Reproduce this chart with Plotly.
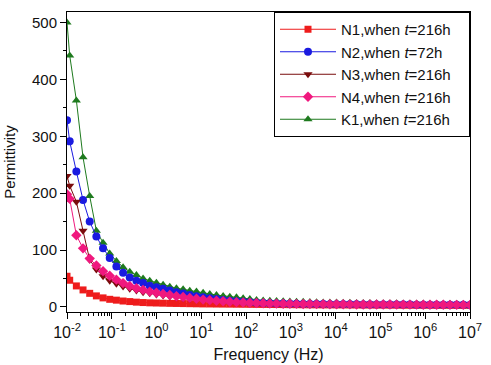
import plotly.graph_objects as go

# Frequency sweep grid (log10 of Hz)
freq_exponents = [-2.0] + [round(-1.94 + 0.149 * i, 3) for i in range(61)]
frequency = [10 ** e for e in freq_exponents]

PAD = "\u00a0\u00a0\u00a0"
series_names = [
    "N1,when <i>t</i>=216h" + PAD,
    "N2,when <i>t</i>=72h" + PAD,
    "N3,when <i>t</i>=216h" + PAD,
    "N4,when <i>t</i>=216h" + PAD,
    "K1,when <i>t</i>=216h" + PAD,
]

n1_values = [54, 47, 37, 30, 24, 19.5, 16, 13.5, 12, 10.5, 9.5, 8.5, 7.8, 7.3, 7, 6.7,
             6.4, 6.2, 6, 5.8, 5.6, 5.4, 5.3, 5.2, 5.1, 5, 4.9, 4.8, 4.7, 4.6, 4.5, 4.4,
             4.3, 4.2, 4.1, 4, 3.9, 3.8, 3.8, 3.7, 3.7, 3.6, 3.6, 3.5, 3.5, 3.4, 3.4, 3.3,
             3.3, 3.2, 3.2, 3.1, 3.1, 3, 3, 3, 2.9, 2.9, 2.9, 2.8, 2.8, 2.8]

n2_values = [328, 291, 238, 188, 150, 124, 103, 86, 71, 60, 52, 46, 42, 37.5, 34.5, 32,
             29, 26, 23.5, 21, 19, 17, 15.5, 14, 12.5, 11, 10, 9, 8.2, 7.6,
             7, 6.6, 6.3, 6, 5.8, 5.6, 5.4, 5.3, 5.2, 5.1, 5, 4.9, 4.8, 4.7, 4.6, 4.5,
             4.5, 4.4, 4.4, 4.3, 4.3, 4.2, 4.2, 4.1, 4.1, 4, 4, 3.9, 3.9, 3.8, 3.8, 3.7]

n3_values = [230, 213, 185, 134, 83, 66, 54, 46, 41, 36, 32, 29, 26, 24, 22, 20,
             18.5, 17, 15.5, 14, 13, 12, 11, 10, 9.2, 8.5, 8, 7.5, 7, 6.5,
             6.1, 5.8, 5.6, 5.4, 5.2, 5.1, 5, 4.9, 4.8, 4.7, 4.6, 4.5, 4.4, 4.3, 4.2, 4.2,
             4.1, 4.1, 4, 4, 3.9, 3.9, 3.8, 3.8, 3.7, 3.7, 3.6, 3.6, 3.5, 3.5, 3.4, 3.4]

n4_values = [198, 190, 126, 103, 85, 73, 63, 55, 48, 42, 37, 33, 30, 27, 25, 23,
             21, 19, 17.5, 16, 14.5, 13, 12, 11, 10, 9.2, 8.5, 8, 7.5, 7,
             6.5, 6.2, 6, 5.8, 5.6, 5.4, 5.3, 5.2, 5.1, 5, 4.9, 4.8, 4.7, 4.6, 4.5, 4.5,
             4.4, 4.4, 4.3, 4.3, 4.2, 4.2, 4.1, 4.1, 4, 4, 3.9, 3.9, 3.8, 3.8, 3.7, 3.7]

k1_values = [500, 442, 363, 263, 195, 134, 113, 94, 81, 70, 62, 56, 50, 46, 42.5, 39,
             35.7, 33, 31, 28.7, 27, 25, 23, 21, 19.5, 18, 17, 15.5, 14, 12.5,
             11.5, 11, 10.5, 10, 9.6, 9.3, 9, 8.7, 8.4, 8.1, 7.9, 7.7, 7.5, 7.3, 7.1, 6.9,
             6.8, 6.7, 6.6, 6.5, 6.4, 6.3, 6.2, 6.1, 6.0, 5.9, 5.8, 5.7, 5.6, 5.5, 5.4, 5.3]

y_tick_values = [0, 100, 200, 300, 400, 500]
x_tick_values = [1e-2, 1e-1, 1e0, 1e1, 1e2, 1e3, 1e4, 1e5, 1e6, 1e7]
x_tick_labels = ["10<sup>-2</sup>", "10<sup>-1</sup>", "10<sup>0</sup>", "10<sup>1</sup>",
                 "10<sup>2</sup>", "10<sup>3</sup>", "10<sup>4</sup>", "10<sup>5</sup>",
                 "10<sup>6</sup>", "10<sup>7</sup>"]

styles = {
    "N1": dict(color="#ee1c1c", symbol="square", size=7, rank=1),
    "N2": dict(color="#1a1ae0", symbol="circle", size=8, rank=2),
    "N3": dict(color="#7a0c0c", symbol="triangle-down", size=8, rank=3),
    "N4": dict(color="#f0187e", symbol="diamond", size=8, rank=4),
    "K1": dict(color="#1e7a1e", symbol="triangle-up", size=8, rank=5),
}

data = {
    "N1": (series_names[0], n1_values),
    "N2": (series_names[1], n2_values),
    "N3": (series_names[2], n3_values),
    "N4": (series_names[3], n4_values),
    "K1": (series_names[4], k1_values),
}

fig = go.Figure()
for key in ["K1", "N1", "N2", "N3", "N4"]:
    name, vals = data[key]
    st = styles[key]
    fig.add_trace(go.Scatter(
        x=frequency, y=vals, name=name, mode="lines+markers",
        line=dict(color=st["color"], width=1),
        marker=dict(color=st["color"], symbol=st["symbol"], size=st["size"]),
        legendrank=st["rank"],
    ))

font_family = "Liberation Sans, Arial, sans-serif"

fig.update_layout(
    width=491, height=365,
    margin=dict(l=67, r=21, t=12, b=53),
    paper_bgcolor="white", plot_bgcolor="white",
    font=dict(family=font_family, size=15, color="#111"),
    showlegend=True,
    legend=dict(
        x=1, y=1, xanchor="right", yanchor="top",
        bordercolor="black", borderwidth=1, bgcolor="white",
        font=dict(family=font_family, size=15, color="#111"),
        itemwidth=56, tracegroupgap=0,
    ),
)

fig.update_xaxes(
    type="log", range=[-2, 7], tickvals=x_tick_values, ticktext=x_tick_labels,
    automargin=False,
    showline=True, linecolor="black", linewidth=1, mirror=True,
    ticks="outside", ticklen=6, tickcolor="black", showgrid=False, zeroline=False,
    minor=dict(ticks="outside", ticklen=3, tickcolor="black", dtick="D1", showgrid=False),
    title=dict(text="Frequency (Hz)", font=dict(size=16), standoff=8),
    tickfont=dict(size=16),
)
fig.update_yaxes(
    range=[-8.8, 518.3], tickvals=y_tick_values,
    automargin=False,
    showline=True, linecolor="black", linewidth=1, mirror=True,
    ticks="outside", ticklen=6, tickcolor="black", showgrid=False, zeroline=False,
    minor=dict(ticks="outside", ticklen=3, tickcolor="black", dtick=50, showgrid=False),
    title=dict(text="Permittivity", font=dict(size=15), standoff=12),
    tickfont=dict(size=15),
)

fig.write_html(
    "out.html",
    config={"displayModeBar": False},
    post_script="document.body.style.margin='0';document.body.style.overflow='hidden';",
)
